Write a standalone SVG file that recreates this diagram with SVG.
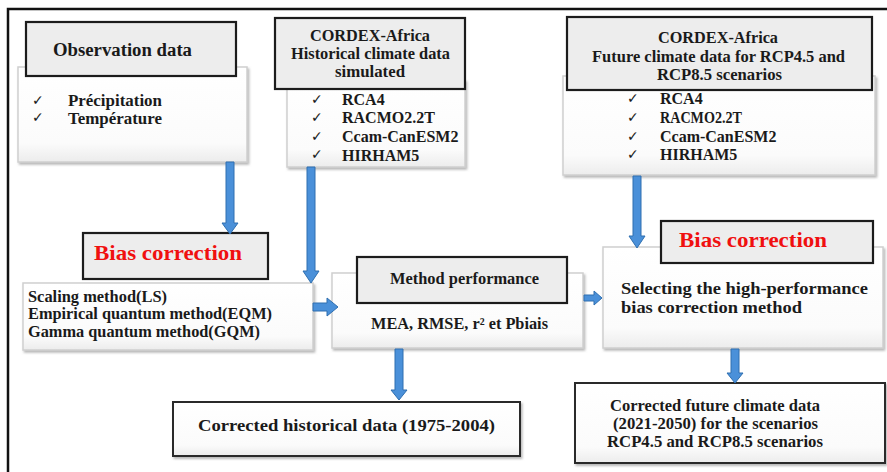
<svg xmlns="http://www.w3.org/2000/svg" width="887" height="472" viewBox="0 0 887 472">
<defs>
<linearGradient id="soft" x1="0" y1="0" x2="0" y2="1">
<stop offset="0" stop-color="#ffffff"/><stop offset="0.8" stop-color="#fbfbfb"/><stop offset="1" stop-color="#ececec"/>
</linearGradient>
<filter id="sh" x="-5%" y="-5%" width="112%" height="120%">
<feDropShadow dx="1.5" dy="2" stdDeviation="1.2" flood-color="#888" flood-opacity="0.6"/>
</filter>
</defs>
<style>
.frame{fill:none;stroke:#111;stroke-width:2.5}
.card{fill:url(#soft);stroke:#cfcfcf;stroke-width:1.5;filter:url(#sh)}
.head{fill:#ededed;stroke:#1c1c1c;stroke-width:2.2}
.out{fill:url(#soft);stroke:#2a2a2a;stroke-width:2;filter:url(#sh)}
text{font-family:"Liberation Serif","Times New Roman",serif;font-weight:bold;fill:#1a1a1a}
.t16{font-size:16px}
.t18{font-size:18px}
.red{font-size:22px;fill:#f01010}
.ck{font-family:"DejaVu Sans",sans-serif;font-weight:normal;font-size:14px}
.arr{fill:#4a90d9;stroke:#2f6fb0;stroke-width:1}
</style>
<path class="frame" d="M8,472 V9 H887"/>

<g id="obs">
<rect class="card" x="18" y="67" width="229" height="95"/>
<rect class="head" x="26" y="22" width="210" height="54"/>
<text class="t18" x="53" y="56" textLength="139" lengthAdjust="spacingAndGlyphs">Observation data</text>
<text class="ck" x="32" y="105">✓</text>
<text class="t16" x="68" y="106" textLength="94" lengthAdjust="spacingAndGlyphs">Précipitation</text>
<text class="ck" x="32" y="122">✓</text>
<text class="t16" x="68" y="124" textLength="94" lengthAdjust="spacingAndGlyphs">Température</text>
</g>

<g id="hist">
<rect class="card" x="287" y="80" width="178" height="87"/>
<rect class="head" x="275" y="18" width="190" height="71"/>
<text class="t16" x="310" y="41" textLength="120" lengthAdjust="spacingAndGlyphs">CORDEX-Africa</text>
<text class="t16" x="291" y="59" textLength="159" lengthAdjust="spacingAndGlyphs">Historical climate data</text>
<text class="t16" x="335" y="77" textLength="70" lengthAdjust="spacingAndGlyphs">simulated</text>
<text class="ck" x="311" y="104">✓</text><text class="t16" x="342" y="105">RCA4</text>
<text class="ck" x="311" y="122">✓</text><text class="t16" x="342" y="123">RACMO2.2T</text>
<text class="ck" x="311" y="141">✓</text><text class="t16" x="342" y="142">Ccam-CanESM2</text>
<text class="ck" x="311" y="159">✓</text><text class="t16" x="342" y="161">HIRHAM5</text>
</g>

<g id="future">
<rect class="card" x="563" y="76" width="312" height="99"/>
<rect class="head" x="567" y="17" width="305" height="73"/>
<text class="t16" x="658" y="43" textLength="120" lengthAdjust="spacingAndGlyphs">CORDEX-Africa</text>
<text class="t16" x="592" y="62" textLength="253" lengthAdjust="spacingAndGlyphs">Future climate data for RCP4.5 and</text>
<text class="t16" x="657" y="80" textLength="125" lengthAdjust="spacingAndGlyphs">RCP8.5 scenarios</text>
<text class="ck" x="627" y="103">✓</text><text class="t16" x="660" y="104">RCA4</text>
<text class="ck" x="627" y="122">✓</text><text class="t16" x="660" y="123" textLength="82" lengthAdjust="spacingAndGlyphs">RACMO2.2T</text>
<text class="ck" x="627" y="141">✓</text><text class="t16" x="660" y="142">Ccam-CanESM2</text>
<text class="ck" x="627" y="159">✓</text><text class="t16" x="660" y="160">HIRHAM5</text>
</g>

<g id="methods">
<rect class="card" x="23" y="283" width="290" height="67"/>
<text class="t16" x="28" y="302" textLength="139" lengthAdjust="spacingAndGlyphs">Scaling method(LS)</text>
<text class="t16" x="28" y="319" textLength="244" lengthAdjust="spacingAndGlyphs">Empirical quantum  method(EQM)</text>
<text class="t16" x="28" y="337" textLength="232" lengthAdjust="spacingAndGlyphs">Gamma quantum  method(GQM)</text>
</g>

<g id="bias1">
<rect class="head" x="83" y="233" width="185" height="46"/>
<text class="red" x="94" y="260" textLength="148" lengthAdjust="spacingAndGlyphs">Bias correction</text>
</g>

<g id="perf">
<rect class="card" x="332" y="273" width="251" height="75"/>
<rect class="head" x="357" y="257" width="210" height="46"/>
<text class="t16" x="390" y="284" textLength="149" lengthAdjust="spacingAndGlyphs">Method performance</text>
<text class="t16" x="371" y="329" textLength="177" lengthAdjust="spacingAndGlyphs">MEA, RMSE, r² et Pbiais</text>
</g>

<g id="select">
<rect class="card" x="603" y="247" width="280" height="101"/>
<text class="t16" x="621" y="294" textLength="247" lengthAdjust="spacingAndGlyphs">Selecting  the high-performance</text>
<text class="t16" x="621" y="313" textLength="181" lengthAdjust="spacingAndGlyphs">bias correction  method</text>
</g>

<g id="bias2">
<rect class="head" x="661" y="221" width="212" height="42"/>
<text class="red" x="679" y="247" textLength="148" lengthAdjust="spacingAndGlyphs">Bias correction</text>
</g>

<g id="histout">
<rect class="out" x="173" y="402" width="347" height="54"/>
<text style="font-size:17px" x="198" y="431" textLength="297" lengthAdjust="spacingAndGlyphs">Corrected  historical  data (1975-2004)</text>
</g>

<g id="futout">
<rect class="out" x="575" y="383" width="310" height="80"/>
<text class="t16" x="610" y="411" textLength="210" lengthAdjust="spacingAndGlyphs">Corrected future climate data</text>
<text class="t16" x="613" y="429" textLength="205" lengthAdjust="spacingAndGlyphs">(2021-2050) for the scenarios</text>
<text class="t16" x="607" y="447" textLength="216" lengthAdjust="spacingAndGlyphs">RCP4.5 and RCP8.5 scenarios</text>
</g>

<g id="connectors">
<polygon class="arr" points="226,162 234,162 234,223 238,223 230,234 222,223 226,223"/>
<polygon class="arr" points="307,167 315,167 315,271 319,271 311,283 303,271 307,271"/>
<polygon class="arr" points="633,176 641,176 641,236 645,236 637,248 629,236 633,236"/>
<polygon class="arr" points="313,303 327,303 327,298 338,307 327,316 327,311 313,311"/>
<polygon class="arr" points="584,295 594,295 594,291 602,298 594,305 594,301 584,301"/>
<polygon class="arr" points="395,349 403,349 403,390 407,390 399,400 391,390 395,390"/>
<polygon class="arr" points="731,349 739,349 739,373 743,373 735,383 727,373 731,373"/>
</g>
</svg>
